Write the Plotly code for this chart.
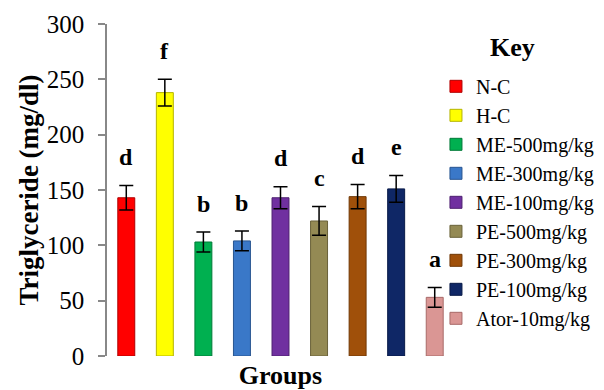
import plotly.graph_objects as go

# Triglyceride levels per treatment group (mean ± SD) with significance letters
groups = ["N-C", "H-C", "ME-500mg/kg", "ME-300mg/kg", "ME-100mg/kg",
          "PE-500mg/kg", "PE-300mg/kg", "PE-100mg/kg", "Ator-10mg/kg"]
means = [143, 238, 103, 104, 143, 122, 144, 151, 53]
errors = [11, 12, 9, 9, 10, 13, 11, 12, 9]
letters = ["d", "f", "b", "b", "d", "c", "d", "e", "a"]

fill_colors = ["#FF0000", "#FFFF00", "#00B050", "#3A78C8", "#7030A0",
               "#948A54", "#A0500A", "#0F2766", "#DA9694"]
edge_colors = ["#B00000", "#B5B500", "#007A38", "#285590", "#4E2070",
               "#6A623A", "#703806", "#081A48", "#A86A69"]

SERIF = "Liberation Serif, Times New Roman, serif"

fig = go.Figure()
for g, m, e, fc, ec in zip(groups, means, errors, fill_colors, edge_colors):
    fig.add_trace(go.Bar(
        x=[g], y=[m], name=g, width=0.44,
        marker=dict(color=fc, line=dict(color=ec, width=1)),
        error_y=dict(type="data", array=[e], color="black", thickness=1.5, width=7),
    ))

# significance letters above each error bar
for g, m, e, t in zip(groups, means, errors, letters):
    fig.add_annotation(x=g, y=m + e + 12, text=f"<b>{t}</b>", showarrow=False,
                       xref="x", yref="y", yanchor="bottom",
                       font=dict(family=SERIF, size=24, color="black"))

fig.add_annotation(text="<b>Key</b>", x=1.17, y=0.928,
                   xref="paper", yref="paper", showarrow=False,
                   xanchor="center", yanchor="middle",
                   font=dict(family=SERIF, size=26, color="black"))

fig.update_layout(
    width=604, height=390,
    margin=dict(l=107, r=150, t=24, b=34, autoexpand=False),
    paper_bgcolor="white", plot_bgcolor="white",
    barmode="overlay",
    showlegend=True,
    legend=dict(xref="paper", yref="paper", x=0.948, y=0.871,
                xanchor="left", yanchor="top",
                font=dict(family=SERIF, size=20, color="black"),
                bgcolor="rgba(0,0,0,0)", tracegroupgap=0),
    font=dict(family=SERIF, color="black"),
)
fig.update_xaxes(showline=False, showticklabels=False, ticks="", showgrid=False,
                 zeroline=False, automargin=False,
                 title=dict(text="<b>Groups</b>", font=dict(family=SERIF, size=26), standoff=10))
fig.update_yaxes(range=[0, 300], dtick=50, showline=True, linecolor="#888888", linewidth=1.5,
                 ticks="outside", ticklen=7, tickcolor="#888888", tickwidth=1.5,
                 showgrid=False, zeroline=False, ticklabelstandoff=9, automargin=False,
                 tickfont=dict(family=SERIF, size=25, color="black"),
                 title=dict(text="<b>Triglyceride (mg/dl)</b>",
                            font=dict(family=SERIF, size=27), standoff=0))

fig.write_html("out.html")
